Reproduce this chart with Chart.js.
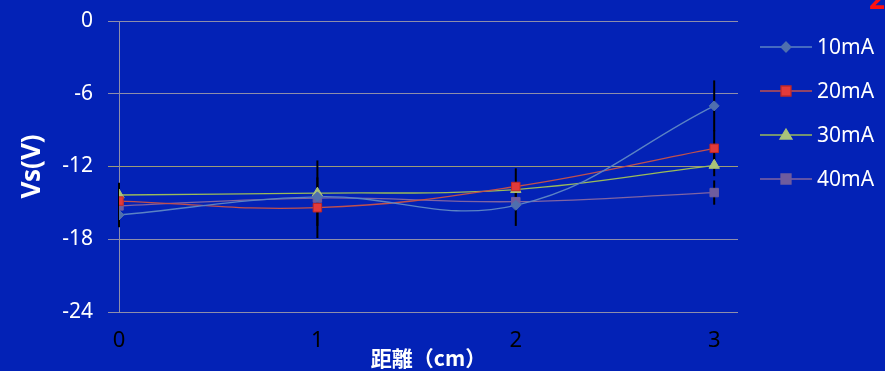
<!DOCTYPE html>
<html>
<head>
<meta charset="utf-8">
<script src="https://cdn.jsdelivr.net/npm/chart.js@4.4.0/dist/chart.umd.min.js"></script>
<title>Vs vs distance</title>
<style>
  html, body { margin: 0; padding: 0; background: #0322b6; }
  #wrap { width: 885px; height: 371px; }
</style>
</head>
<body>
<div id="wrap"><canvas id="c"></canvas></div>
<script>
// distance (cm)
const xValues = [0, 1, 2, 3];
const yTicks = [0, -6, -12, -18, -24];
const seriesNames = ['10mA', '20mA', '30mA', '40mA'];

const ma10 = [-16.0, -14.5, -15.2, -7.0];
const ma20 = [-14.85, -15.4, -13.65, -10.5];
const ma30 = [-14.35, -14.2, -13.9, -11.9];
const ma40 = [-15.25, -14.6, -14.9, -14.15];

// error bar half widths
const err10 = [1.0, 0, 1.7, 2.1];
const err20 = [0, 2.5, 1.5, 1.5];
const err30 = [1.0, 2.7, 0, 0.9];
const err40 = [0, 0, 0, 1.0];

const values = [ma10, ma20, ma30, ma40];
const errors = [err10, err20, err30, err40];
const lineColors = ['#5b83c4', '#c0504d', '#9bbb59', '#8064a2'];
const markColors = ['#4f6fae', '#e23a3a', '#a9c27a', '#6f5c9e'];
const markBorders = ['#4f6fae', '#c02828', '#a9c27a', '#6f5c9e'];
const styles = ['rectRot', 'rect', 'triangle', 'rect'];
const radii = [5, 6, 6, 6];

const datasets = seriesNames.map((name, i) => ({
  label: name,
  data: xValues.map((x, j) => ({ x: x, y: values[i][j] })),
  borderColor: lineColors[i],
  backgroundColor: markColors[i],
  pointBorderColor: markBorders[i],
  pointBackgroundColor: markColors[i],
  pointStyle: styles[i],
  pointRadius: radii[i],
  pointBorderWidth: 1,
  borderWidth: 1.3,
  tension: 0.4
}));

const errorBars = {
  id: 'errorBars',
  beforeDatasetsDraw(chart) {
    const ctx = chart.ctx, xs = chart.scales.x, ys = chart.scales.y;
    ctx.save();
    ctx.strokeStyle = '#000000';
    ctx.lineWidth = 2;
    errors.forEach((errs, i) => {
      errs.forEach((e, j) => {
        if (!e) return;
        const px = xs.getPixelForValue(xValues[j]);
        ctx.beginPath();
        ctx.moveTo(px, ys.getPixelForValue(values[i][j] + e));
        ctx.lineTo(px, ys.getPixelForValue(values[i][j] - e));
        ctx.stroke();
      });
    });
    ctx.restore();
  }
};

const sideLegend = {
  id: 'sideLegend',
  afterDraw(chart) {
    const ctx = chart.ctx;
    ctx.save();
    seriesNames.forEach((name, i) => {
      const y = 47 + i * 44;
      ctx.strokeStyle = lineColors[i];
      ctx.lineWidth = 1.3;
      ctx.beginPath();
      ctx.moveTo(760, y);
      ctx.lineTo(812, y);
      ctx.stroke();
      ctx.fillStyle = markColors[i];
      ctx.strokeStyle = markBorders[i];
      ctx.beginPath();
      if (styles[i] === 'rectRot') {
        ctx.moveTo(786, y - 5); ctx.lineTo(791, y); ctx.lineTo(786, y + 5); ctx.lineTo(781, y);
      } else if (styles[i] === 'triangle') {
        ctx.moveTo(786, y - 6); ctx.lineTo(792, y + 4); ctx.lineTo(780, y + 4);
      } else {
        ctx.rect(781, y - 5, 10, 10);
      }
      ctx.closePath();
      ctx.fill();
      ctx.stroke();
      ctx.fillStyle = '#ffffff';
      ctx.font = '21px "Noto Sans"';
      ctx.textBaseline = 'middle';
      ctx.fillText(name, 817, y + 1);
    });
    ctx.fillStyle = '#ff1010';
    ctx.font = 'bold 28px "Noto Sans"';
    ctx.textBaseline = 'alphabetic';
    ctx.fillText('2', 869, 9);
    ctx.restore();
  }
};

new Chart(document.getElementById('c'), {
  type: 'line',
  data: { datasets: datasets },
  plugins: [errorBars, sideLegend],
  options: {
    responsive: true,
    maintainAspectRatio: false,
    animation: false,
    layout: { padding: { top: 21, right: 147, bottom: 0, left: 0 } },
    plugins: { legend: { display: false }, tooltip: { enabled: false } },
    scales: {
      x: {
        type: 'linear',
        min: 0,
        max: 3.12,
        afterBuildTicks(s) { s.ticks = xValues.map(v => ({ value: v })); },
        afterFit(s) { s.height = 59; s.paddingLeft = 0; s.paddingRight = 0; },
        grid: { display: false, drawTicks: false },
        border: { display: false },
        ticks: { color: '#000000', font: { family: 'Noto Sans', size: 22 }, padding: 16, maxRotation: 0 },
        title: {
          display: true, text: '距離（cm）', color: '#ffffff',
          font: { family: 'Noto Sans CJK JP', size: 21, weight: 'bold' },
          padding: { top: 0, bottom: 0 }
        }
      },
      y: {
        min: -24,
        max: 0,
        afterBuildTicks(s) { s.ticks = yTicks.map(v => ({ value: v })); },
        afterFit(s) { s.width = 119; s.paddingTop = 0; s.paddingBottom = 0; },
        grid: {
          color: ctx => ctx.tick && ctx.tick.value === -12 ? '#9c9c78' : '#8e8eaa',
          lineWidth: 1,
          tickLength: 11
        },
        border: { display: true, color: '#8e8eaa' },
        ticks: { color: '#ffffff', font: { family: 'Noto Sans', size: 21 }, padding: 15 },
        title: {
          display: true, text: 'Vs(V)', color: '#ffffff',
          font: { family: 'Noto Sans', size: 26, weight: 'bold' },
          padding: { top: 17, bottom: 0 }
        }
      }
    }
  }
});
</script>
</body>
</html>
